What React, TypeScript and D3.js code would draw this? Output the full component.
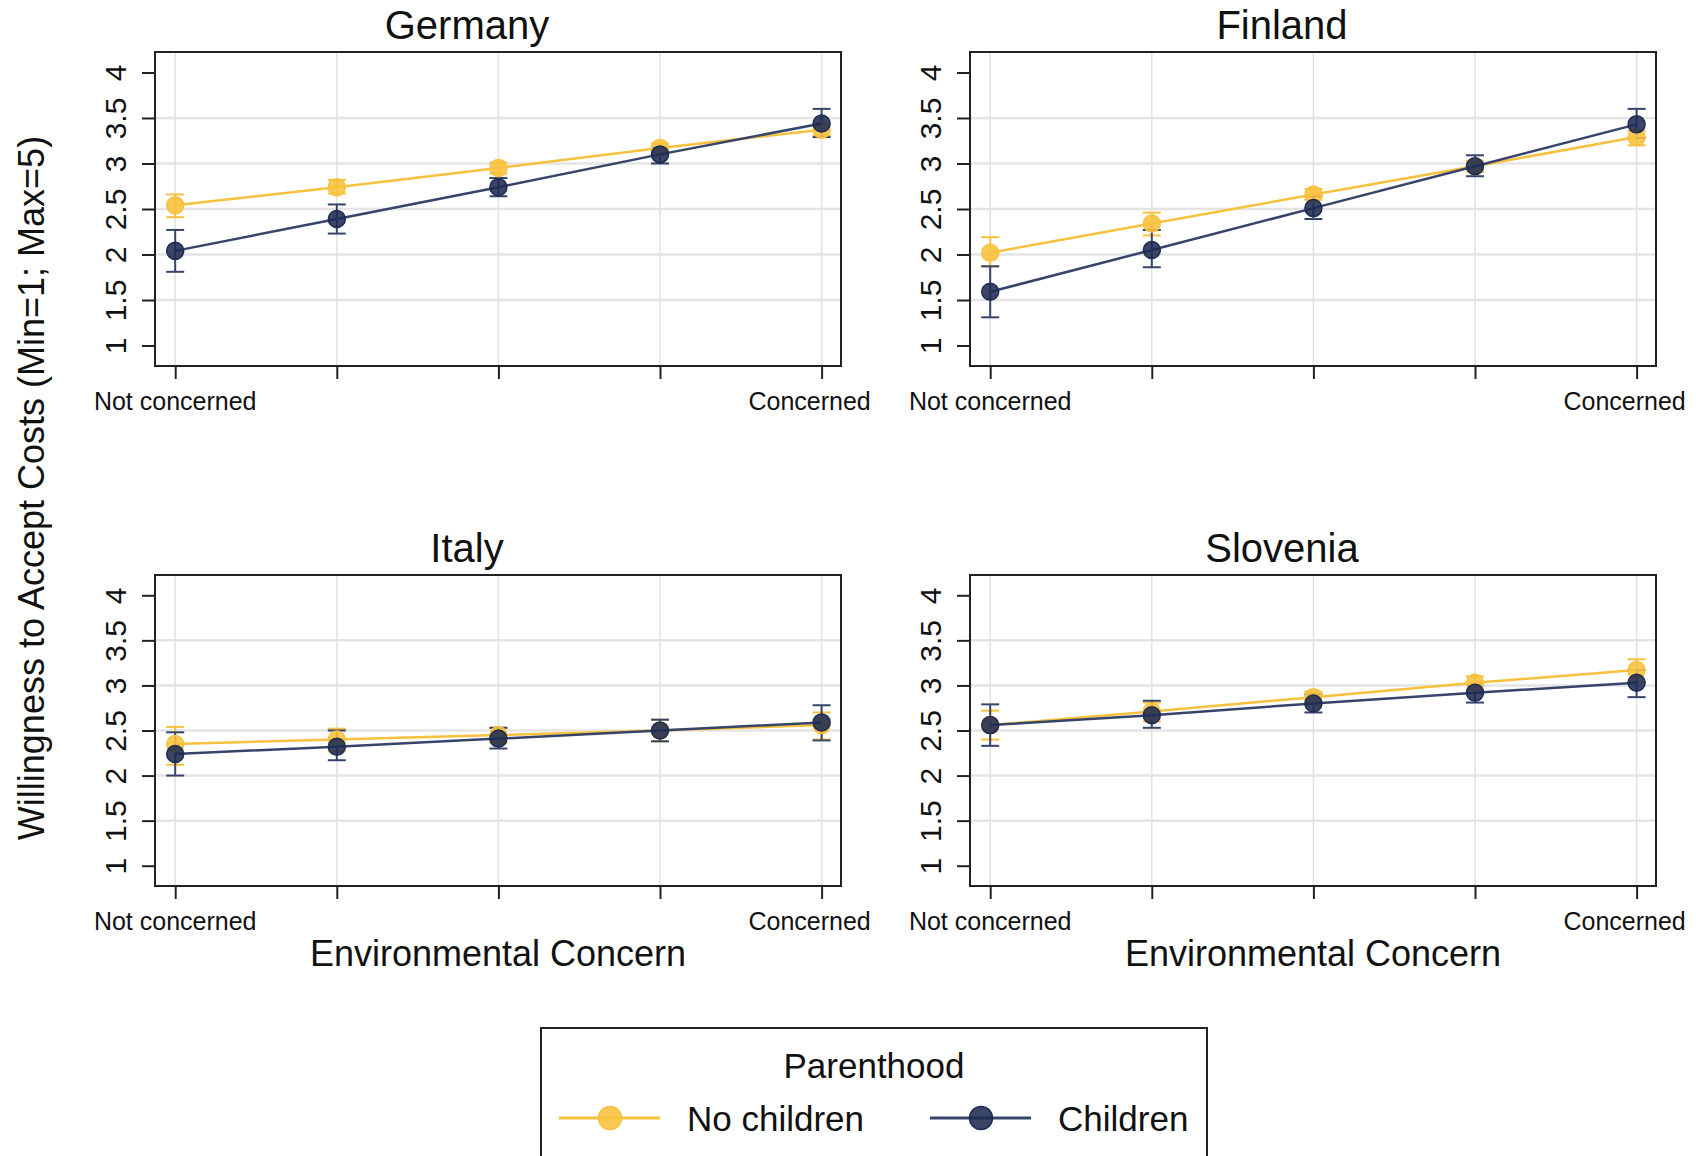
import React, { useRef, useEffect } from 'react'
import * as d3 from 'd3'

// panels in reading order
const countries = ['Germany', 'Finland', 'Italy', 'Slovenia']
const concernLevels = [1, 2, 3, 4, 5]
const xTickLabels = ['Not concerned', '', '', '', 'Concerned']
const yTicks = [1, 1.5, 2, 2.5, 3, 3.5, 4]
const yGrid = [1.5, 2, 2.5, 3, 3.5]

// No children (one row per country)
const noChildrenMean = [
    [2.54, 2.74, 2.95, 3.17, 3.37],
    [2.02, 2.34, 2.66, 2.97, 3.29],
    [2.35, 2.40, 2.45, 2.50, 2.56],
    [2.56, 2.71, 2.87, 3.03, 3.17],
]
const noChildrenLow = [
    [2.41, 2.67, 2.89, 3.12, 3.31],
    [1.87, 2.21, 2.60, 2.91, 3.20],
    [2.12, 2.27, 2.36, 2.38, 2.40],
    [2.40, 2.60, 2.80, 2.95, 3.04],
]
const noChildrenHigh = [
    [2.66, 2.82, 3.01, 3.22, 3.43],
    [2.19, 2.46, 2.72, 3.03, 3.36],
    [2.54, 2.52, 2.53, 2.62, 2.70],
    [2.72, 2.81, 2.93, 3.10, 3.29],
]

// Children
const childrenMean = [
    [2.04, 2.39, 2.74, 3.10, 3.44],
    [1.59, 2.05, 2.51, 2.97, 3.43],
    [2.24, 2.32, 2.41, 2.50, 2.59],
    [2.56, 2.67, 2.80, 2.92, 3.03],
]
const childrenLow = [
    [1.81, 2.23, 2.64, 3.00, 3.29],
    [1.31, 1.86, 2.39, 2.86, 3.28],
    [2.00, 2.17, 2.30, 2.38, 2.39],
    [2.33, 2.53, 2.70, 2.81, 2.87],
]
const childrenHigh = [
    [2.27, 2.55, 2.84, 3.18, 3.60],
    [1.87, 2.27, 2.64, 3.09, 3.60],
    [2.48, 2.50, 2.53, 2.62, 2.78],
    [2.79, 2.83, 2.90, 3.02, 3.17],
]

const seriesNames = ['No children', 'Children']
const lineColors = ['#f7c13e', '#36446b']
const markerColors = ['#f8c23f', '#1f2b52']

export default function App() {
    const svgRef = useRef(null)

    const width = 1696
    const height = 1156
    const font = "'Liberation Sans', Arial, sans-serif"

    // panel geometry
    const panelLeft = [155, 970]
    const panelTop = [52, 575]
    const panelW = 686
    const panelH = [314, 311]

    useEffect(() => {
        const svg = d3.select(svgRef.current)
        svg.selectAll('*').remove()
        svg.attr('width', width).attr('height', height)
            .style('background', '#ffffff')

        svg.append('rect').attr('width', width).attr('height', height).attr('fill', '#fff')

        const series = [
            { mean: noChildrenMean, lo: noChildrenLow, hi: noChildrenHigh },
            { mean: childrenMean, lo: childrenLow, hi: childrenHigh },
        ]

        countries.forEach((name, ci) => {
            const col = ci % 2
            const row = Math.floor(ci / 2)
            const x0 = panelLeft[col]
            const y0 = panelTop[row]
            const h = panelH[row]

            const xScale = d3.scaleLinear().domain([0.875, 5.12]).range([x0, x0 + panelW])
            const yScale = d3.scaleLinear().domain([0.775, 4.225]).range([y0 + h, y0])

            const g = svg.append('g')

            // grid
            g.append('g').selectAll('line').data(yGrid).join('line')
                .attr('x1', x0).attr('x2', x0 + panelW)
                .attr('y1', d => yScale(d)).attr('y2', d => yScale(d))
                .attr('stroke', '#e4e4e4').attr('stroke-width', 2.5)
            g.append('g').selectAll('line').data(concernLevels).join('line')
                .attr('x1', d => xScale(d)).attr('x2', d => xScale(d))
                .attr('y1', y0).attr('y2', y0 + h)
                .attr('stroke', '#e2e2e2').attr('stroke-width', 1.5)

            // y axis, labels turned on their side
            const yAxis = g.append('g').attr('transform', `translate(${x0},0)`)
                .call(d3.axisLeft(yScale).tickValues(yTicks).tickSize(13).tickFormat(d3.format('~g')))
            yAxis.select('.domain').remove()
            yAxis.selectAll('line').attr('stroke', '#222').attr('stroke-width', 2)
            yAxis.selectAll('text')
                .attr('x', null).attr('dy', null).attr('y', 0)
                .attr('transform', 'translate(-29,0) rotate(-90)')
                .attr('text-anchor', 'middle')
                .attr('font-family', font).attr('font-size', 30).attr('fill', '#111')

            // x axis
            const xAxis = g.append('g').attr('transform', `translate(0,${y0 + h})`)
                .call(d3.axisBottom(xScale).tickValues(concernLevels).tickSize(13).tickFormat(() => ''))
            xAxis.select('.domain').remove()
            xAxis.selectAll('line').attr('stroke', '#222').attr('stroke-width', 2)

            g.append('text')
                .attr('x', xScale(concernLevels[0])).attr('y', y0 + h + 44)
                .attr('text-anchor', 'middle').attr('font-family', font).attr('font-size', 25).attr('fill', '#111')
                .text(xTickLabels[0])
            g.append('text')
                .attr('x', xScale(concernLevels[4]) - 12).attr('y', y0 + h + 44)
                .attr('text-anchor', 'middle').attr('font-family', font).attr('font-size', 25).attr('fill', '#111')
                .text(xTickLabels[4])

            // panel title, centred over the whole subgraph
            g.append('text')
                .attr('x', x0 + panelW / 2 - 31).attr('y', y0 - 13)
                .attr('text-anchor', 'middle').attr('font-family', font).attr('font-size', 40).attr('fill', '#111')
                .text(name)

            if (row === 1) {
                g.append('text')
                    .attr('x', x0 + panelW / 2).attr('y', y0 + h + 80)
                    .attr('text-anchor', 'middle').attr('font-family', font).attr('font-size', 36).attr('fill', '#111')
                    .text('Environmental Concern')
            }

            // confidence intervals
            series.forEach((s, si) => {
                const cg = g.append('g').attr('stroke', lineColors[si]).attr('stroke-width', 2)
                concernLevels.forEach((lvl, i) => {
                    const cx = xScale(lvl)
                    cg.append('line').attr('x1', cx).attr('x2', cx)
                        .attr('y1', yScale(s.lo[ci][i])).attr('y2', yScale(s.hi[ci][i]))
                    cg.append('line').attr('x1', cx - 9).attr('x2', cx + 9)
                        .attr('y1', yScale(s.lo[ci][i])).attr('y2', yScale(s.lo[ci][i]))
                    cg.append('line').attr('x1', cx - 9).attr('x2', cx + 9)
                        .attr('y1', yScale(s.hi[ci][i])).attr('y2', yScale(s.hi[ci][i]))
                })
            })

            // lines + markers
            series.forEach((s, si) => {
                const line = d3.line<number>()
                    .x((d, i) => xScale(concernLevels[i]))
                    .y(d => yScale(d))
                g.append('path').datum(s.mean[ci])
                    .attr('d', line)
                    .attr('fill', 'none')
                    .attr('stroke', lineColors[si])
                    .attr('stroke-width', 2.5)
                g.append('g').selectAll('circle').data(s.mean[ci]).join('circle')
                    .attr('cx', (d, i) => xScale(concernLevels[i]))
                    .attr('cy', d => yScale(d))
                    .attr('r', 8.5)
                    .attr('fill', markerColors[si])
                    .attr('fill-opacity', 0.88)
                    .attr('stroke', markerColors[si])
                    .attr('stroke-width', 1.5)
            })

            // frame
            g.append('rect')
                .attr('x', x0).attr('y', y0).attr('width', panelW).attr('height', h)
                .attr('fill', 'none').attr('stroke', '#222').attr('stroke-width', 2)
        })

        // y axis title
        svg.append('text')
            .attr('transform', `translate(44,488) rotate(-90)`)
            .attr('text-anchor', 'middle').attr('font-family', font).attr('font-size', 36).attr('fill', '#111')
            .text('Willingness to Accept Costs (Min=1; Max=5)')

        // legend
        const legend = svg.append('g')
        legend.append('rect')
            .attr('x', 541).attr('y', 1028).attr('width', 666).attr('height', 160)
            .attr('fill', '#fff').attr('stroke', '#222').attr('stroke-width', 2)
        legend.append('text')
            .attr('x', 874).attr('y', 1078)
            .attr('text-anchor', 'middle').attr('font-family', font).attr('font-size', 35).attr('fill', '#111')
            .text('Parenthood')
        const legendX = [559, 930]
        seriesNames.forEach((nm, si) => {
            const lx = legendX[si]
            legend.append('line')
                .attr('x1', lx).attr('x2', lx + 101).attr('y1', 1118).attr('y2', 1118)
                .attr('stroke', lineColors[si]).attr('stroke-width', 3)
            legend.append('circle')
                .attr('cx', lx + 51).attr('cy', 1118).attr('r', 11.5)
                .attr('fill', markerColors[si]).attr('fill-opacity', 0.88)
                .attr('stroke', markerColors[si]).attr('stroke-width', 1.5)
            legend.append('text')
                .attr('x', lx + 128).attr('y', 1131)
                .attr('font-family', font).attr('font-size', 35).attr('fill', '#111')
                .text(nm)
        })
    }, [])

    return (
        <svg ref={svgRef} style={{ position: 'absolute', left: 0, top: 0, display: 'block' }}></svg>
    )
}
